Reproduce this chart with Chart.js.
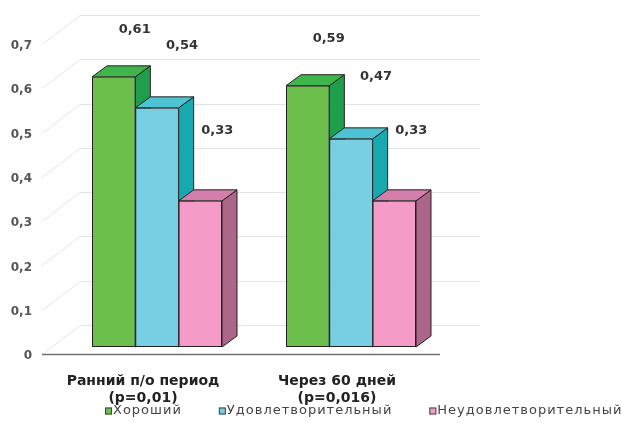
<!DOCTYPE html>
<html>
<head>
<meta charset="utf-8">
<script src="https://cdn.jsdelivr.net/npm/chart.js@4/dist/chart.umd.min.js"></script>
<style>
  html, body { margin: 0; padding: 0; background: #fff; }
  #wrap { width: 622px; height: 423px; position: relative; }
</style>
</head>
<body>
<div id="wrap"><canvas id="c"></canvas></div>
<script>
  // ---- data
  const categories = [['Ранний п/о период', '(p=0,01)'], ['Через 60 дней', '(p=0,016)']];
  const seriesNames = ['Хороший', 'Удовлетворительный', 'Неудовлетворительный'];
  const good = [0.61, 0.59];
  const satisfactory = [0.54, 0.47];
  const unsatisfactory = [0.33, 0.33];
  const yMin = 0, yMax = 0.7, yStep = 0.1;

  // ---- look
  const FONT = "'DejaVu Sans', 'Liberation Sans', sans-serif";
  const DEPTH = { dx: 15, dy: 11 };       // bar extrusion
  const PLOT_BOTTOM = 347;                // y of the bars' base
  const GRID = '#e4e4e4';
  const LEGEND = { x: 105, y: 411, box: 7, gap: 37, font: '13px ' + FONT, spacing: '1px', color: '#444' };

  const fmt = (v) => v === 0 ? '0' : v.toFixed(2).replace(/0$/, '').replace('.', ',');

  function shade(ctx, pts, fill, stroke) {
    ctx.beginPath();
    ctx.moveTo(pts[0][0], pts[0][1]);
    for (let i = 1; i < pts.length; i++) ctx.lineTo(pts[i][0], pts[i][1]);
    ctx.closePath();
    ctx.fillStyle = fill; ctx.fill();
    ctx.strokeStyle = stroke; ctx.lineWidth = 1; ctx.stroke();
  }

  // walls + floor, then the top and side faces of each bar (fronts come from Chart.js)
  const bars3d = {
    id: 'bars3d',
    beforeDatasetsDraw(chart) {
      const { ctx, chartArea: a, scales: { y } } = chart;
      ctx.save();
      ctx.strokeStyle = GRID; ctx.lineWidth = 1;
      for (let v = yMin; v <= yMax + 1e-9; v += yStep) {
        const py = Math.round(y.getPixelForValue(v)) + 0.5;
        ctx.beginPath();
        ctx.moveTo(a.left - 18, py + 7); ctx.lineTo(a.left + 20, py - 22);
        ctx.lineTo(a.right + 32, py - 22);
        ctx.stroke();
      }
      // front floor edge
      const base = Math.round(y.getPixelForValue(0)) + 7.5;
      ctx.strokeStyle = '#707070'; ctx.lineWidth = 1.5;
      ctx.beginPath(); ctx.moveTo(a.left - 18, base); ctx.lineTo(a.right - 8, base); ctx.stroke();

      const n = chart.data.labels.length;
      for (let i = 0; i < n; i++) {
        chart.data.datasets.forEach((ds, di) => {
          const el = chart.getDatasetMeta(di).data[i];
          const l = el.x - el.width / 2, r = el.x + el.width / 2;
          const t = el.y, b = el.base;
          shade(ctx, [[r, t], [r + DEPTH.dx, t - DEPTH.dy], [r + DEPTH.dx, b - DEPTH.dy], [r, b]], ds.sideColor, '#222');
          shade(ctx, [[l, t], [r, t], [r + DEPTH.dx, t - DEPTH.dy], [l + DEPTH.dx, t - DEPTH.dy]], ds.topColor, '#222');
        });
      }
      ctx.restore();
    },
    afterDatasetsDraw(chart) {
      const { ctx } = chart;
      ctx.save();
      ctx.font = 'bold 13px ' + FONT;
      ctx.fillStyle = '#333';
      ctx.textAlign = 'center'; ctx.textBaseline = 'middle';
      chart.data.datasets.forEach((ds, di) => {
        chart.getDatasetMeta(di).data.forEach((el, i) => {
          ctx.fillText(fmt(ds.data[i]), el.x + ds.labelDx, el.y + ds.labelDy);
        });
      });
      ctx.restore();
    },
    afterDraw(chart) {
      // legend row, Excel style: small boxes, spaced entries
      const { ctx } = chart;
      ctx.save();
      ctx.font = LEGEND.font; ctx.letterSpacing = LEGEND.spacing;
      ctx.textBaseline = 'middle'; ctx.textAlign = 'left';
      let x = LEGEND.x;
      chart.data.datasets.forEach((ds) => {
        ctx.fillStyle = ds.backgroundColor;
        ctx.fillRect(x, LEGEND.y - LEGEND.box / 2, LEGEND.box, LEGEND.box);
        ctx.strokeStyle = '#444'; ctx.lineWidth = 1;
        ctx.strokeRect(x + 0.5, LEGEND.y - LEGEND.box / 2 + 0.5, LEGEND.box - 1, LEGEND.box - 1);
        ctx.fillStyle = LEGEND.color;
        ctx.fillText(ds.label, x + LEGEND.box + 1, LEGEND.y);
        x += LEGEND.box + 1 + ctx.measureText(ds.label).width + LEGEND.gap;
      });
      ctx.restore();
    },
  };

  const mk = (label, data, front, top, side, labelDx, labelDy) => ({
    label, data, backgroundColor: front, topColor: top, sideColor: side,
    borderColor: '#222', borderWidth: 1, borderSkipped: false,
    categoryPercentage: 0.67, barPercentage: 1.0, labelDx, labelDy,
  });

  new Chart(document.getElementById('c'), {
    type: 'bar',
    data: {
      labels: categories,
      datasets: [
        mk(seriesNames[0], good, '#6cbf4a', '#3fb54b', '#1f9f4b', 21, -47),
        mk(seriesNames[1], satisfactory, '#78cee2', '#4dc3d3', '#18a8b0', 25, -62),
        mk(seriesNames[2], unsatisfactory, '#f59bc8', '#d47fab', '#ab6689', 17, -70),
      ],
    },
    plugins: [bars3d],
    options: {
      responsive: true, maintainAspectRatio: false, animation: false,
      layout: { padding: { top: 37, left: 0, right: 0, bottom: 0 } },
      plugins: {
        tooltip: { enabled: false },
        legend: { display: false },
      },
      scales: {
        x: {
          grid: { display: false }, border: { display: false },
          ticks: { color: '#222', font: { family: FONT, size: 14, weight: 'bold' },
                   padding: 18, labelOffset: -14, maxRotation: 0, autoSkip: false },
          afterFit: (s) => { s.height = s.chart.height - PLOT_BOTTOM; },
        },
        y: {
          min: yMin, max: yMax,
          grid: { display: false }, border: { display: false },
          ticks: { stepSize: yStep, color: '#555', font: { family: FONT, size: 12, weight: 'bold' },
                   padding: 20, labelOffset: 9, callback: (v) => fmt(v) },
          afterFit: (s) => { s.width = 60; },
        },
        yR: {
          position: 'right', display: true,
          grid: { display: false }, border: { display: false }, ticks: { display: false },
          afterFit: (s) => { s.width = 174; },
        },
      },
    },
  });
</script>
</body>
</html>
